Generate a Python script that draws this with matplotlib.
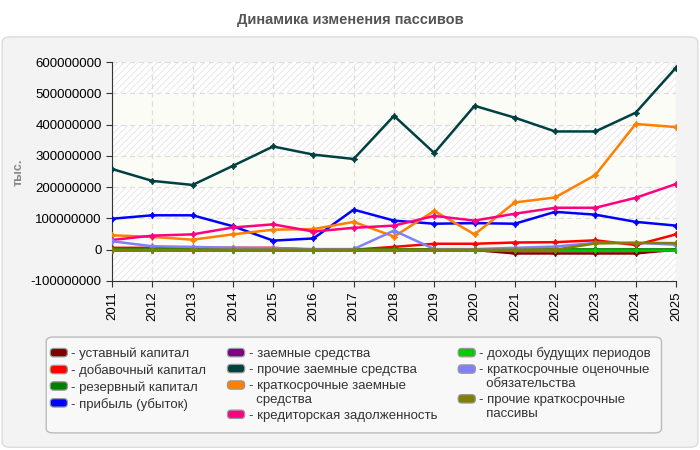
import numpy as np
import matplotlib
matplotlib.use("Agg")
import matplotlib.pyplot as plt
from matplotlib.patches import Patch, FancyBboxPatch
from matplotlib.legend_handler import HandlerPatch
from matplotlib.ticker import FuncFormatter

years = list(range(2011, 2026))

ustavny = [0, 0, 0, 0, 0, 0, 0, 0, 0, -1e6, -12e6, -12e6, -12e6, -12e6, 0]
dobavochny = [6e6, 6e6, 6e6, 6e6, 6e6, 0, 0, 9e6, 19e6, 19e6, 23e6, 24e6, 30e6, 15e6, 49e6]
rezervny = [2e6, 2e6, 2e6, 1e6, 1e6, 1e6, 1e6, 1e6, 1e6, 1e6, 1e6, 1e6, 1e6, 1e6, 1e6]
pribyl = [99e6, 110e6, 110e6, 75e6, 29e6, 36e6, 128e6, 93e6, 83e6, 85e6, 83e6, 121e6, 112e6, 89e6, 77e6]
zaemnye = [0] * 15
prochie_zaemnye = [258e6, 220e6, 207e6, 268e6, 330e6, 304e6, 290e6, 428e6, 309e6, 460e6, 422e6, 378e6, 378e6, 438e6, 582e6]
kratk_zaemnye = [46e6, 41e6, 32e6, 49e6, 64e6, 66e6, 89e6, 42e6, 124e6, 49e6, 151e6, 167e6, 239e6, 402e6, 392e6]
kreditorskaya = [31e6, 45e6, 49e6, 71e6, 81e6, 58e6, 70e6, 77e6, 108e6, 93e6, 115e6, 134e6, 134e6, 166e6, 210e6]
dohody = [0] * 15
ocenochnye = [27e6, 11e6, 9e6, 6e6, 5e6, 2e6, 2e6, 61e6, 2e6, 2e6, 6e6, 10e6, 22e6, 22e6, 16e6]
prochie_kratk = [0, 0, 0, 0, 0, 0, 0, 0, 0, 0, 0, 0, 20e6, 22e6, 21e6]

series = [
    ("уставный капитал", ustavny, "#800000"),
    ("добавочный капитал", dobavochny, "#ff0000"),
    ("резервный капитал", rezervny, "#008000"),
    ("прибыль (убыток)", pribyl, "#0000ff"),
    ("заемные средства", zaemnye, "#800080"),
    ("прочие заемные средства", prochie_zaemnye, "#004040"),
    ("краткосрочные заемные\nсредства", kratk_zaemnye, "#ff8000"),
    ("кредиторская задолженность", kreditorskaya, "#ff0080"),
    ("доходы будущих периодов", dohody, "#00cc00"),
    ("краткосрочные оценочные\nобязательства", ocenochnye, "#8080ff"),
    ("прочие краткосрочные\nпассивы", prochie_kratk, "#808000"),
]


class RoundHandler(HandlerPatch):
    # rounded colour chip, put next to the first line of a two-line label
    def create_artists(self, legend, orig_handle, xdescent, ydescent, width, height, fontsize, trans):
        shift = fontsize * 0.6 if getattr(orig_handle, "two_lines", False) else 0
        p = FancyBboxPatch((-xdescent, -ydescent + shift), width, height,
                           boxstyle="round,pad=0,rounding_size=2.5",
                           facecolor=orig_handle.get_facecolor(), edgecolor='#999999',
                           linewidth=0.9, transform=trans)
        return [p]


plt.rcParams['font.family'] = ['Liberation Sans', 'DejaVu Sans']
plt.rcParams['hatch.linewidth'] = 0.6
plt.rcParams['hatch.color'] = '#e4e4e4'

fig = plt.figure(figsize=(7, 4.5), dpi=100)
fig.patch.set_facecolor('white')

# outer panel and legend box
panel = FancyBboxPatch((0.003, 0.006), 0.994, 0.912, boxstyle="round,pad=0,rounding_size=0.012",
                       transform=fig.transFigure, facecolor='#f3f3f3', edgecolor='#dcdcdc',
                       linewidth=1, zorder=-2)
fig.patches.append(panel)
legbox = FancyBboxPatch((0.066, 0.038), 0.879, 0.213, boxstyle="round,pad=0,rounding_size=0.01",
                        transform=fig.transFigure, facecolor='#f8f8f8', edgecolor='#bbbbbb',
                        linewidth=1, zorder=-1)
fig.patches.append(legbox)

fig.text(0.5, 0.956, "Динамика изменения пассивов", ha='center', va='center',
         fontsize=10.5, fontweight='bold', color='#555555')

ax = fig.add_axes([0.16, 0.3756, 0.8057, 0.4866])
ax.set_facecolor('white')

# background bands
for i, lo in enumerate(range(-100, 600, 100)):
    if i % 2 == 0:
        ax.axhspan(lo * 1e6, (lo + 100) * 1e6, facecolor='white', hatch='/////',
                   edgecolor='#e4e4e4', linewidth=0, zorder=0)
    else:
        ax.axhspan(lo * 1e6, (lo + 100) * 1e6, facecolor='#fbfcf5', linewidth=0, zorder=0)

for name, vals, col in series:
    ax.plot(years, vals, color=col, linewidth=1.8, marker=(4, 1, 0), markersize=4.5,
            markeredgewidth=0.8, zorder=3)

ax.set_xlim(2011, 2025)
ax.set_ylim(-100e6, 600e6)
ax.set_xticks(years)
ax.set_xticklabels([str(y) for y in years], rotation=90, fontsize=9.5)
ax.set_yticks(np.arange(-100e6, 600e6 + 1, 100e6))
ax.yaxis.set_major_formatter(FuncFormatter(lambda v, p: "%d" % round(v)))
ax.tick_params(axis='y', labelsize=9.5, length=4, color='#333333')
ax.tick_params(axis='x', length=4, color='#333333')
ax.grid(True, color='#dddddd', linestyle=(0, (4, 3)), linewidth=0.9)
for gl in ax.get_xgridlines() + ax.get_ygridlines():
    gl.set_zorder(1)
ax.spines['top'].set_visible(False)
ax.spines['right'].set_visible(False)
ax.spines['left'].set_color('#333333')
ax.spines['bottom'].set_color('#333333')

fig.text(0.027, 0.616, "тыс.", rotation=90, ha='center', va='center',
         fontsize=9, fontweight='bold', color='#888888')

handles = []
for name, _, col in series:
    h = Patch(facecolor=col)
    h.two_lines = "\n" in name
    handles.append(h)
labels = ["- " + name.replace("\n", "\n  ") for name, _, _ in series]
leg = fig.legend(handles, labels, ncol=3, loc='upper left',
                 bbox_to_anchor=(0.068, 0.234), handler_map={Patch: RoundHandler()},
                 fontsize=9.5, frameon=False, handlelength=1.3,
                 handleheight=0.6, handletextpad=0.3, labelspacing=0.3,
                 columnspacing=1.6, borderaxespad=0, borderpad=0.2)
for t in leg.get_texts():
    t.set_color('#333333')

fig.savefig("out.png", dpi=100)
